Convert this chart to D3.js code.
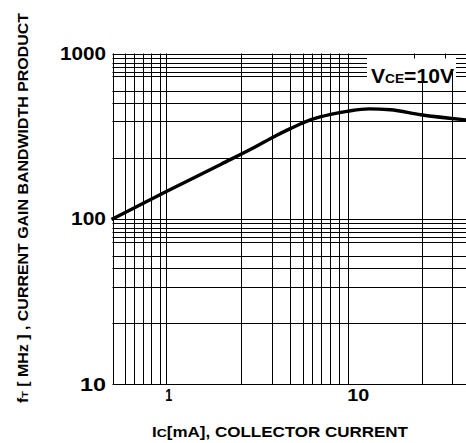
<!DOCTYPE html>
<html>
<head>
<meta charset="utf-8">
<script src="https://cdn.jsdelivr.net/npm/d3@7"></script>
<style>
  body { margin: 0; background: #fff; }
  svg { display: block; font-family: Arial, "Liberation Sans", sans-serif; font-weight: bold; }
</style>
</head>
<body>
<div id="chart"></div>
<script>
// curve: Ic [mA] vs fT [MHz]
const icValues = [0.5, 1, 2, 3, 4, 4.8, 5.8, 7, 8, 10, 13, 17, 25, 45];
const ftValues = [99, 146, 214, 268, 318, 351, 386, 413, 428, 448, 462, 457, 426, 396];

// grid lines as they sit on the (hand drawn) datasheet grid
const gridX = [0.59, 0.665, 0.745, 0.827, 0.927, 1, 2.58, 3.8, 4.8, 5.62, 6.29, 7.05, 7.9, 8.93, 10, 25.3, 37.3];
const gridY = [939, 882, 829, 778, 726, 593, 502, 388, 234, 100,
               93.9, 88.2, 82.9, 77.8, 72.6, 59.3, 50.2, 38.8, 23.4];
const xTicks = [1, 10];
const yTicks = [10, 100, 1000];

const width = 466, height = 443;
const margin = { top: 53.5, right: -10, bottom: 59, left: 112.5 };

const svg = d3.select("#chart").append("svg")
    .attr("width", width)
    .attr("height", height);

// keep 1 at 166.3 and 10 at 348.3
const x = d3.scaleLog()
    .domain([Math.pow(10, (margin.left - 166.3) / 182), Math.pow(10, (width - margin.right - 166.3) / 182)])
    .range([margin.left, width - margin.right]);

const y = d3.scaleLog()
    .domain([10, 1000])
    .range([height - margin.bottom, margin.top]);

const plot = svg.append("g");
const x0 = margin.left, x1 = width + 5;
const y0 = margin.top, y1 = height - margin.bottom;

// horizontal grid
plot.selectAll(".hgrid")
    .data(gridY)
    .enter().append("line")
    .attr("x1", x0).attr("x2", x1)
    .attr("y1", d => Math.round(y(d)) + 0.5)
    .attr("y2", d => Math.round(y(d)) + 0.5)
    .attr("stroke", "#000")
    .attr("stroke-width", 1);

// label box hides the grid behind it
plot.append("rect")
    .attr("x", 367).attr("y", 58)
    .attr("width", 89).attr("height", 27)
    .attr("fill", "#fff");

// vertical grid
plot.selectAll(".vgrid")
    .data(gridX)
    .enter().append("line")
    .attr("x1", d => Math.round(x(d)) + 0.5)
    .attr("x2", d => Math.round(x(d)) + 0.5)
    .attr("y1", d => d > 20 ? 72 : y0)
    .attr("y2", y1)
    .attr("stroke", "#000")
    .attr("stroke-width", 1);

// little stubs at the top right
plot.selectAll(".stub")
    .data([23.1, 33.8])
    .enter().append("line")
    .attr("x1", d => Math.round(x(d)) + 0.5)
    .attr("x2", d => Math.round(x(d)) + 0.5)
    .attr("y1", y0).attr("y2", y0 + 5)
    .attr("stroke", "#000");

// frame
plot.append("line")
    .attr("x1", x0).attr("x2", x1)
    .attr("y1", Math.round(y0) + 0.5).attr("y2", Math.round(y0) + 0.5)
    .attr("stroke", "#000");
plot.append("line")
    .attr("x1", x0).attr("x2", x1)
    .attr("y1", Math.round(y1) + 0.5).attr("y2", Math.round(y1) + 0.5)
    .attr("stroke", "#000");
plot.append("line")
    .attr("x1", Math.round(x0) + 0.5).attr("x2", Math.round(x0) + 0.5)
    .attr("y1", y0).attr("y2", y1)
    .attr("stroke", "#000");

// curve
const line = d3.line()
    .x((d, i) => x(icValues[i]))
    .y(d => y(d))
    .curve(d3.curveMonotoneX);

plot.append("path")
    .datum(ftValues)
    .attr("d", line)
    .attr("fill", "none")
    .attr("stroke", "#000")
    .attr("stroke-width", 3.4)
    .attr("stroke-linejoin", "round");

// VCE label
const vce = svg.append("text")
    .attr("x", 371)
    .attr("y", 82.5)
    .attr("textLength", 83)
    .attr("lengthAdjust", "spacingAndGlyphs")
    .style("font-size", "20px");
vce.append("tspan").text("V");
vce.append("tspan").style("font-size", "13px").text("CE");
vce.append("tspan").text("=10V");

// y tick labels
const yLabW = { 10: 26, 100: 35, 1000: 46 };
svg.selectAll(".ylab")
    .data(yTicks)
    .enter().append("text")
    .attr("x", 106)
    .attr("y", d => y(d) + 6.5)
    .attr("textLength", d => yLabW[d])
    .attr("text-anchor", "end")
    .attr("lengthAdjust", "spacingAndGlyphs")
    .style("font-size", "17.5px")
    .text(d => d);

// x tick labels
const xLabW = { 1: 7, 10: 22 };
svg.selectAll(".xlab")
    .data(xTicks)
    .enter().append("text")
    .attr("x", d => x(d) - 1)
    .attr("y", 401)
    .attr("textLength", d => xLabW[d])
    .attr("lengthAdjust", "spacingAndGlyphs")
    .style("font-size", "16px")
    .text(d => d);

// x axis title
const xt = svg.append("text")
    .attr("x", 152)
    .attr("y", 437)
    .attr("textLength", 256)
    .attr("lengthAdjust", "spacingAndGlyphs")
    .style("font-size", "14px");
xt.append("tspan").text("I");
xt.append("tspan").style("font-size", "11.5px").text("C");
xt.append("tspan").text("[mA], COLLECTOR CURRENT");

// y axis title
const yt = svg.append("text")
    .attr("transform", "translate(27.5,403) rotate(-90)")
    .attr("textLength", 390)
    .attr("lengthAdjust", "spacingAndGlyphs")
    .style("font-size", "14px");
yt.append("tspan").text("f");
yt.append("tspan").style("font-size", "9.5px").text("T");
yt.append("tspan").text(" [ MHz ] , CURRENT GAIN BANDWIDTH PRODUCT");
</script>
</body>
</html>
